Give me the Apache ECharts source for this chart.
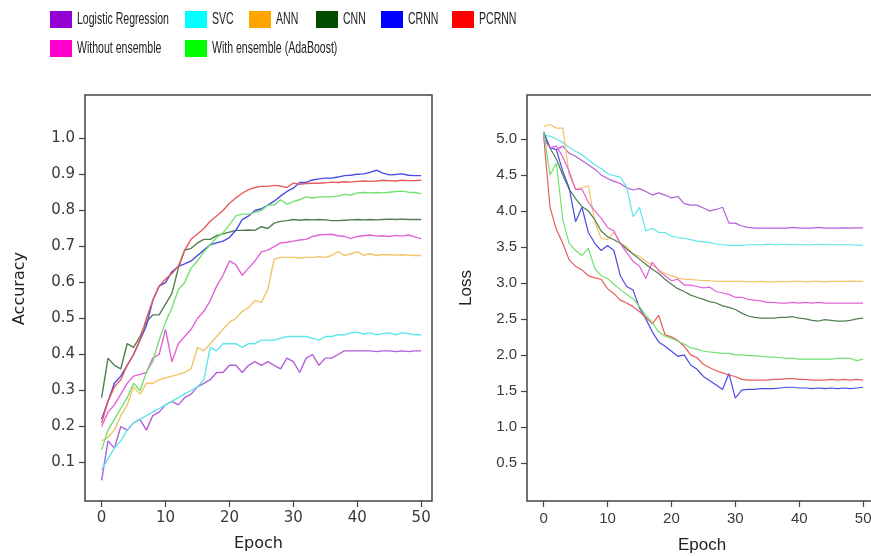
<!DOCTYPE html>
<html>
<head>
<meta charset="utf-8">
<script src="https://cdn.jsdelivr.net/npm/echarts@6/dist/echarts.min.js"></script>
<style>
  html, body { margin: 0; padding: 0; background: #fff; }
  #main { width: 871px; height: 556px; }
</style>
</head>
<body>
<div id="main"></div>
<script>
// epochs (x values shared by every curve)
var epochs = [0,1,2,3,4,5,6,7,8,9,10,11,12,13,14,15,16,17,18,19,20,21,22,23,24,25,
  26,27,28,29,30,31,32,33,34,35,36,37,38,39,40,41,42,43,44,45,46,47,48,49,50];

var modelNames = ['Logistic Regression', 'SVC', 'ANN', 'CNN', 'CRNN', 'PCRNN',
  'Without ensemble', 'With ensemble (AdaBoost)'];

var xTicks = [0, 10, 20, 30, 40, 50];
var accTicks = [0.1, 0.2, 0.3, 0.4, 0.5, 0.6, 0.7, 0.8, 0.9, 1.0];
var lossTicks = [0.5, 1.0, 1.5, 2.0, 2.5, 3.0, 3.5, 4.0, 4.5, 5.0];

// accuracy curves (left panel)
var accLR = [0.05,0.16,0.14,0.20,0.19,0.21,0.22,0.19,0.23,0.24,0.26,0.27,0.26,0.28,0.29,0.31,0.32,0.33,0.35,0.35,
  0.37,0.37,0.35,0.37,0.38,0.37,0.38,0.37,0.36,0.39,0.38,0.35,0.39,0.40,0.37,0.39,0.39,0.40,0.41,0.41,
  0.41,0.41,0.41,0.408,0.41,0.41,0.408,0.41,0.408,0.41,0.41];
var accSVC = [0.08,0.11,0.14,0.16,0.19,0.21,0.22,0.23,0.24,0.25,0.26,0.27,0.28,0.29,0.30,0.31,0.33,0.42,0.41,0.43,
  0.43,0.43,0.42,0.43,0.43,0.44,0.44,0.44,0.445,0.45,0.45,0.45,0.45,0.445,0.44,0.45,0.45,0.455,0.455,0.46,
  0.462,0.457,0.46,0.455,0.458,0.46,0.455,0.46,0.458,0.455,0.455];
var accANN = [0.16,0.17,0.19,0.23,0.26,0.31,0.29,0.32,0.32,0.33,0.335,0.34,0.345,0.35,0.36,0.42,0.41,0.43,0.45,0.47,
  0.49,0.50,0.52,0.53,0.55,0.545,0.58,0.665,0.67,0.67,0.67,0.668,0.67,0.67,0.672,0.67,0.675,0.686,0.675,0.68,
  0.686,0.676,0.68,0.675,0.678,0.677,0.676,0.677,0.676,0.675,0.675];
var accCNN = [0.28,0.39,0.37,0.36,0.43,0.42,0.45,0.49,0.51,0.51,0.54,0.57,0.64,0.69,0.695,0.71,0.72,0.72,0.73,0.735,
  0.74,0.745,0.745,0.746,0.745,0.755,0.75,0.765,0.77,0.772,0.775,0.773,0.775,0.774,0.775,0.774,0.772,0.772,0.773,0.774,
  0.775,0.774,0.775,0.774,0.775,0.776,0.775,0.776,0.775,0.775,0.775];
var accCRNN = [0.22,0.27,0.32,0.34,0.37,0.40,0.44,0.48,0.55,0.59,0.60,0.63,0.645,0.652,0.66,0.675,0.69,0.705,0.71,0.715,
  0.725,0.745,0.775,0.785,0.80,0.805,0.815,0.826,0.84,0.853,0.862,0.878,0.878,0.885,0.888,0.89,0.89,0.893,0.897,0.898,
  0.901,0.902,0.906,0.912,0.904,0.899,0.90,0.902,0.898,0.897,0.897];
var accPCRNN = [0.21,0.27,0.31,0.33,0.37,0.40,0.44,0.50,0.55,0.59,0.61,0.625,0.645,0.69,0.72,0.735,0.75,0.77,0.785,0.80,
  0.82,0.835,0.848,0.858,0.864,0.867,0.867,0.87,0.868,0.864,0.876,0.873,0.875,0.876,0.876,0.877,0.879,0.878,0.88,0.879,
  0.881,0.882,0.881,0.882,0.884,0.883,0.882,0.884,0.883,0.883,0.884];
var accNoEns = [0.20,0.24,0.26,0.29,0.32,0.34,0.345,0.35,0.39,0.40,0.47,0.38,0.43,0.45,0.47,0.50,0.52,0.55,0.59,0.62,
  0.66,0.65,0.62,0.64,0.66,0.685,0.69,0.70,0.71,0.712,0.715,0.718,0.72,0.728,0.732,0.733,0.734,0.73,0.728,0.722,
  0.728,0.73,0.732,0.729,0.73,0.728,0.731,0.729,0.732,0.727,0.722];
var accEns = [0.135,0.19,0.22,0.25,0.28,0.32,0.30,0.35,0.38,0.44,0.49,0.53,0.58,0.60,0.64,0.66,0.685,0.705,0.725,0.738,
  0.76,0.785,0.79,0.79,0.795,0.80,0.815,0.815,0.83,0.818,0.825,0.83,0.838,0.835,0.838,0.838,0.838,0.84,0.845,0.843,
  0.849,0.85,0.849,0.85,0.849,0.851,0.853,0.854,0.851,0.85,0.847];

// loss curves (right panel)
var lossLR = [5.0,4.88,4.85,4.9,4.8,4.76,4.70,4.64,4.58,4.5,4.45,4.41,4.38,4.32,4.29,4.31,4.27,4.22,4.25,4.22,
  4.18,4.2,4.1,4.08,4.08,4.04,4.0,4.02,4.05,3.83,3.83,3.79,3.77,3.76,3.76,3.76,3.76,3.76,3.76,3.77,
  3.76,3.76,3.76,3.77,3.76,3.76,3.76,3.765,3.76,3.765,3.765];
var lossSVC = [5.05,5.04,5.0,4.95,4.88,4.83,4.78,4.71,4.64,4.59,4.52,4.49,4.47,4.33,3.92,4.05,3.72,3.76,3.7,3.7,
  3.65,3.63,3.62,3.6,3.58,3.57,3.56,3.54,3.53,3.52,3.52,3.52,3.53,3.53,3.53,3.54,3.53,3.53,3.54,3.53,
  3.53,3.53,3.53,3.54,3.53,3.53,3.53,3.53,3.53,3.525,3.52];
var lossANN = [5.17,5.2,5.15,5.15,4.5,4.3,4.32,4.35,3.85,3.62,3.6,3.7,3.55,3.5,3.4,3.37,3.3,3.25,3.18,3.13,
  3.1,3.07,3.05,3.05,3.04,3.03,3.03,3.02,3.02,3.02,3.02,3.02,3.015,3.015,3.02,3.015,3.015,3.02,3.015,3.02,
  3.02,3.015,3.02,3.02,3.015,3.02,3.02,3.02,3.025,3.02,3.02];
var lossCNN = [5.1,4.87,4.72,4.5,4.3,4.17,4.06,4.0,3.88,3.72,3.64,3.6,3.55,3.47,3.4,3.33,3.26,3.19,3.13,3.05,
  2.98,2.92,2.88,2.83,2.8,2.77,2.74,2.72,2.68,2.66,2.63,2.58,2.54,2.52,2.51,2.51,2.51,2.52,2.52,2.53,
  2.51,2.5,2.48,2.47,2.49,2.48,2.47,2.47,2.48,2.5,2.51];
var lossCRNN = [5.08,4.88,4.85,4.55,4.32,3.85,4.05,3.7,3.55,3.45,3.52,3.45,3.1,2.95,2.9,2.65,2.5,2.32,2.18,2.12,
  2.05,1.98,2.0,1.86,1.8,1.7,1.64,1.58,1.52,1.74,1.4,1.51,1.52,1.52,1.53,1.53,1.53,1.54,1.55,1.55,
  1.54,1.54,1.53,1.54,1.53,1.54,1.53,1.54,1.53,1.54,1.55];
var lossPCRNN = [5.05,4.05,3.74,3.55,3.32,3.23,3.18,3.1,3.07,3.05,2.92,2.85,2.76,2.72,2.67,2.6,2.52,2.43,2.55,2.28,
  2.25,2.2,2.12,2.0,1.96,1.87,1.82,1.78,1.75,1.72,1.7,1.66,1.65,1.65,1.65,1.65,1.66,1.66,1.67,1.67,
  1.66,1.66,1.65,1.65,1.65,1.66,1.65,1.66,1.65,1.66,1.65];
var lossNoEns = [5.0,4.88,4.9,4.75,4.55,4.3,4.3,4.12,4.0,3.9,3.77,3.72,3.55,3.42,3.3,3.23,3.06,3.29,3.17,3.1,
  3.03,3.05,2.97,2.97,2.95,2.93,2.94,2.88,2.86,2.84,2.8,2.8,2.77,2.76,2.75,2.73,2.73,2.72,2.72,2.73,
  2.72,2.73,2.72,2.73,2.72,2.72,2.72,2.72,2.72,2.72,2.72];
var lossEns = [5.1,4.5,4.66,3.88,3.55,3.45,3.38,3.48,3.2,3.1,3.06,2.98,2.91,2.84,2.78,2.67,2.55,2.45,2.32,2.26,
  2.23,2.19,2.15,2.1,2.08,2.05,2.04,2.03,2.02,2.02,2.0,2.0,1.99,1.99,1.98,1.97,1.97,1.96,1.95,1.95,
  1.94,1.94,1.94,1.94,1.94,1.94,1.95,1.95,1.95,1.92,1.94];

var accData = [accLR, accSVC, accANN, accCNN, accCRNN, accPCRNN, accNoEns, accEns];
var lossData = [lossLR, lossSVC, lossANN, lossCNN, lossCRNN, lossPCRNN, lossNoEns, lossEns];

// legend swatch colours and the (lighter) colours the curves are drawn in
var swatchColors = ['#9400d3', '#00ffff', '#ffa500', '#004d00', '#0000ff', '#ff0000', '#ff00cc', '#00ff00'];
var lineColors = ['#b25fd8', '#5fe6ea', '#f2c36a', '#4f7f4f', '#4b4be3', '#e65c5c', '#e363d6', '#72e072'];

var chart = echarts.init(document.getElementById('main'), null, { renderer: 'canvas' });

var tickFont = 'DejaVu Sans';
var sideFont = "'Liberation Sans', Arial, sans-serif";

// legend: swatch + condensed label, laid out in two aligned rows
var legendPos = [[50, 11], [185, 11], [249, 11], [316, 11], [381, 11], [452, 11], [50, 40], [185, 40]];
var legendItems = modelNames.map(function (name, i) {
  return {
    type: 'group',
    left: legendPos[i][0],
    top: legendPos[i][1],
    children: [
      { type: 'rect', shape: { x: 0, y: 0, width: 22, height: 17 }, style: { fill: swatchColors[i] } },
      { type: 'text', x: 27, y: 8.5, scaleX: 0.62,
        style: { text: name, fontFamily: sideFont, fontSize: 17, fill: '#222', verticalAlign: 'middle' } }
    ]
  };
});

function xAxisFor(gridIndex) {
  return {
    type: 'value',
    gridIndex: gridIndex,
    min: -2.6,
    max: 51.7,
    axisLine: { show: false, onZero: false },
    splitLine: { show: false },
    axisTick: { show: true, length: 6, customValues: xTicks, lineStyle: { color: '#444', width: 1.2 } },
    axisLabel: {
      customValues: xTicks,
      margin: 10,
      color: '#3a3a3a',
      fontFamily: gridIndex === 0 ? tickFont : sideFont,
      fontSize: 15
    }
  };
}

function yAxisFor(gridIndex, min, max, ticks) {
  return {
    type: 'value',
    gridIndex: gridIndex,
    min: min,
    max: max,
    axisLine: { show: false, onZero: false },
    splitLine: { show: false },
    axisTick: { show: true, length: 6, customValues: ticks, lineStyle: { color: '#444', width: 1.2 } },
    axisLabel: {
      customValues: ticks,
      margin: 10,
      color: '#3a3a3a',
      fontFamily: gridIndex === 0 ? tickFont : sideFont,
      fontSize: 15,
      formatter: function (v) { return v.toFixed(1); }
    }
  };
}

var series = [];
modelNames.forEach(function (name, i) {
  series.push({
    name: name,
    type: 'line',
    xAxisIndex: 0,
    yAxisIndex: 0,
    showSymbol: false,
    symbol: 'none',
    data: epochs.map(function (e, j) { return [e, accData[i][j]]; }),
    lineStyle: { color: lineColors[i], width: 1.4 },
    itemStyle: { color: swatchColors[i] }
  });
  series.push({
    name: name,
    type: 'line',
    xAxisIndex: 1,
    yAxisIndex: 1,
    showSymbol: false,
    symbol: 'none',
    data: epochs.map(function (e, j) { return [e, lossData[i][j]]; }),
    lineStyle: { color: lineColors[i], width: 1.2 },
    itemStyle: { color: swatchColors[i] }
  });
});

var option = {
  animation: false,
  backgroundColor: '#fff',
  grid: [
    { left: 85, top: 95, width: 347, height: 406, outerBoundsMode: 'none',
      show: true, borderColor: '#444', borderWidth: 1.5, backgroundColor: 'transparent' },
    // runs a little past the right edge of the picture, like the original crop
    { left: 527, top: 95, width: 347, height: 406, outerBoundsMode: 'none',
      show: true, borderColor: '#444', borderWidth: 1.5, backgroundColor: 'transparent' }
  ],
  xAxis: [xAxisFor(0), xAxisFor(1)],
  yAxis: [yAxisFor(0, -0.007, 1.121, accTicks), yAxisFor(1, -0.03, 5.61, lossTicks)],
  graphic: legendItems.concat([
    { type: 'text', left: 12, top: 252, rotation: Math.PI / 2,
      style: { text: 'Accuracy', fontFamily: tickFont, fontSize: 16, fill: '#222' } },
    { type: 'text', left: 234, top: 536,
      style: { text: 'Epoch', fontFamily: tickFont, fontSize: 16, fill: '#222' } },
    { type: 'text', left: 458, top: 270, rotation: Math.PI / 2,
      style: { text: 'Loss', fontFamily: sideFont, fontSize: 17, fill: '#222' } },
    { type: 'text', left: 678, top: 537,
      style: { text: 'Epoch', fontFamily: sideFont, fontSize: 17, fill: '#222' } }
  ]),
  series: series
};

chart.setOption(option);
</script>
</body>
</html>
